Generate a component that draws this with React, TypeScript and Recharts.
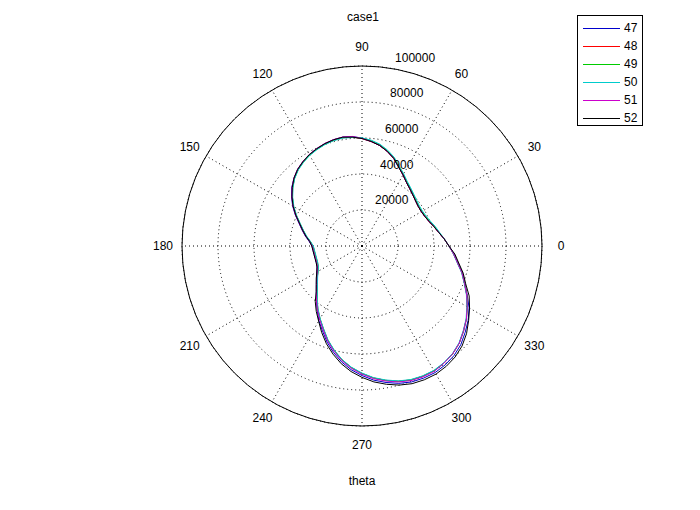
import { RadarChart, Radar, PolarGrid, PolarAngleAxis, PolarRadiusAxis, Legend } from 'recharts';

const THETA = [0, 5, 10, 15, 20, 25, 30, 35, 40, 45, 50, 55, 60, 65, 70, 75, 80, 85,
  90, 95, 100, 105, 110, 115, 120, 125, 130, 135, 140, 145, 150, 155, 160, 165, 170, 175,
  180, 185, 190, 195, 200, 205, 210, 215, 220, 225, 230, 235, 240, 245, 250, 255, 260, 265,
  270, 275, 280, 285, 290, 295, 300, 305, 310, 315, 320, 325, 330, 335, 340, 345, 350, 355];

// radius per angle, one list per run
const R47 = [48300, 45800, 43300, 41400, 39700, 38600, 38100, 38200, 38900, 40000, 41400, 43100,
  45600, 48300, 51700, 54400, 56700, 58300, 60000, 61000, 61400, 61100, 60500, 59600,
  58600, 57200, 55600, 53400, 50900, 47800, 44500, 40900, 37300, 34500, 32000, 29500,
  27800, 27300, 27000, 26900, 27000, 27500, 28900, 30900, 33100, 35900, 39500, 43400,
  47900, 52000, 56800, 61200, 65400, 69000, 72000, 74800, 77000, 79000, 80400, 81000,
  81200, 80600, 79500, 77600, 74800, 72000, 68700, 64500, 60900, 57800, 54200, 51400];
const R48 = [48300, 45800, 43300, 41400, 39700, 38600, 38100, 38200, 38900, 40000, 41400, 43100,
  45600, 48300, 51700, 54400, 56700, 58300, 59700, 60700, 61100, 60800, 60200, 59300,
  58300, 56900, 55300, 53100, 50300, 47200, 43900, 40300, 36700, 33900, 31400, 28900,
  27200, 26700, 26400, 26300, 26400, 26900, 28300, 30300, 32500, 35300, 38900, 42800,
  46700, 50800, 55600, 60000, 64200, 67800, 70800, 73600, 75800, 77800, 79200, 79800,
  80000, 79400, 78300, 76400, 73600, 70800, 67500, 64200, 60600, 57500, 53900, 51100];
const R49 = [48300, 45800, 43500, 41800, 40100, 39000, 38500, 38600, 39300, 40400, 41800, 43500,
  46000, 48700, 52100, 54800, 57100, 58700, 59900, 60700, 61100, 60800, 60200, 59300,
  58300, 56900, 55300, 53100, 50300, 47200, 43900, 40300, 36700, 33900, 31400, 28900,
  27200, 26700, 26400, 26300, 26400, 26900, 28300, 30300, 32500, 35300, 38900, 42800,
  46700, 50800, 55600, 60000, 64200, 67800, 70800, 73600, 75800, 77800, 79200, 79800,
  80000, 79400, 78300, 76400, 73600, 70800, 67500, 64200, 60600, 57500, 53900, 51100];
const R50 = [48300, 45900, 43700, 42100, 40400, 39300, 38800, 38900, 39600, 40700, 42100, 43800,
  46300, 49000, 52400, 55100, 57400, 59000, 60100, 60500, 60900, 60600, 60000, 59100,
  58100, 56700, 55100, 52900, 50100, 47000, 43700, 40100, 36500, 33700, 31200, 28700,
  27000, 26500, 26200, 26100, 26200, 26700, 28100, 30100, 32300, 35100, 38700, 42600,
  46500, 50600, 55400, 59800, 64000, 67600, 70600, 73400, 75600, 77600, 79000, 79600,
  79800, 79200, 78100, 76200, 73400, 70600, 67300, 64000, 60400, 57300, 53700, 51000];
const R51 = [48300, 45800, 43300, 41400, 39700, 38600, 38100, 38200, 38900, 40000, 41400, 43100,
  45600, 48300, 51700, 54400, 56700, 58300, 59700, 61100, 61500, 61200, 60600, 59700,
  58700, 57300, 55700, 53500, 50700, 47600, 44300, 40700, 37100, 34300, 31800, 29300,
  27600, 27100, 26800, 26700, 26800, 27300, 28700, 30700, 32900, 35700, 39300, 43200,
  47100, 51200, 56000, 60400, 64600, 68200, 71200, 74000, 76200, 78200, 79600, 80200,
  80400, 79400, 78300, 76400, 73600, 70800, 67500, 64200, 60600, 57500, 53900, 51100];
const R52 = [48300, 45800, 43300, 41400, 39700, 38600, 38100, 38200, 38900, 40000, 41400, 43100,
  45600, 48300, 51700, 54400, 56700, 58300, 59700, 60700, 61400, 61100, 60500, 59600,
  58600, 57200, 55600, 53400, 50600, 47500, 44200, 40600, 37000, 34200, 31700, 29200,
  27900, 27400, 27100, 27000, 27100, 27600, 29000, 31000, 33200, 36000, 40400, 44300,
  48200, 53000, 57800, 62200, 66400, 70000, 73000, 75800, 78000, 80000, 81400, 82000,
  82200, 81600, 80500, 78600, 75800, 72300, 69000, 65700, 61300, 58200, 54600, 51800];

const SERIES = [
  { key: 's47', name: '47', color: '#0000cc', values: R47 },
  { key: 's48', name: '48', color: '#ff0000', values: R48 },
  { key: 's49', name: '49', color: '#00cc00', values: R49 },
  { key: 's50', name: '50', color: '#00cccc', values: R50 },
  { key: 's51', name: '51', color: '#cc00cc', values: R51 },
  { key: 's52', name: '52', color: '#000000', values: R52 },
];

const ANGLE_TICKS = [0, 30, 60, 90, 120, 150, 180, 210, 240, 270, 300, 330];
const RADIUS_TICKS = [0, 20000, 40000, 60000, 80000, 100000];

const FONT = '"Liberation Sans", Arial, sans-serif';

const data = THETA.map((t, i) => {
  const row: Record<string, number> = { theta: t };
  SERIES.forEach((s) => { row[s.key] = s.values[i]; });
  return row;
});

const AngleTick = (props: any) => (
  <text x={props.x} y={props.y} textAnchor="middle" dominantBaseline="central"
    fontSize={12} fontFamily={FONT} fill="#000">
    {props.payload.value}
  </text>
);

// matlab puts the radius labels just right of the 82 deg spoke
const RadiusTick = (props: any) => {
  if (props.payload.value === 0) return <g />;
  return (
    <text x={props.x + 8} y={props.y - 10} textAnchor="start" dominantBaseline="central"
      fontSize={12} fontFamily={FONT} fill="#000">
      {props.payload.value}
    </text>
  );
};

const LegendBox = () => (
  <div style={{ border: '1px solid #000', background: '#fff', width: 66, height: 111, boxSizing: 'border-box', paddingTop: 3 }}>
    {SERIES.map((s) => (
      <div key={s.key} style={{ display: 'flex', alignItems: 'center', height: 18 }}>
        <div style={{ marginLeft: 5, width: 37, borderTop: `1px solid ${s.color}` }} />
        <span style={{ marginLeft: 4, fontSize: 12, fontFamily: FONT, color: '#000' }}>{s.name}</span>
      </div>
    ))}
  </div>
);

export default function App() {
  return (
    <div style={{ position: 'absolute', left: 0, top: 0, width: 700, height: 510, background: '#fff' }}>
      <div style={{ position: 'absolute', left: 0, width: 726, top: 10, textAlign: 'center', fontSize: 12, fontFamily: FONT }}>case1</div>
      <div style={{ position: 'absolute', left: 0, width: 724, top: 474, textAlign: 'center', fontSize: 12, fontFamily: FONT }}>theta</div>
      <RadarChart width={700} height={510} cx={362} cy={246} outerRadius={180}
        startAngle={0} endAngle={360} data={data}>
        <PolarGrid gridType="circle" stroke="#000" strokeDasharray="1 3" />
        <PolarAngleAxis dataKey="theta" type="number" domain={[0, 360]} ticks={ANGLE_TICKS as any}
          tick={AngleTick} tickLine={false} tickSize={19} axisLineType="circle" axisLine={{ stroke: '#000' }} />
        <PolarRadiusAxis angle={82} type="number" domain={[0, 100000]} ticks={RADIUS_TICKS as any} tickCount={6}
          tick={RadiusTick} axisLine={false} tickLine={false} />
        {SERIES.map((s) => (
          <Radar key={s.key} dataKey={s.key} name={s.name} stroke={s.color} strokeWidth={1}
            fill="none" fillOpacity={0} dot={false} isAnimationActive={false} />
        ))}
        <Legend content={LegendBox} wrapperStyle={{ position: 'absolute', left: 577, top: 15, width: 66 }} />
      </RadarChart>
    </div>
  );
}
